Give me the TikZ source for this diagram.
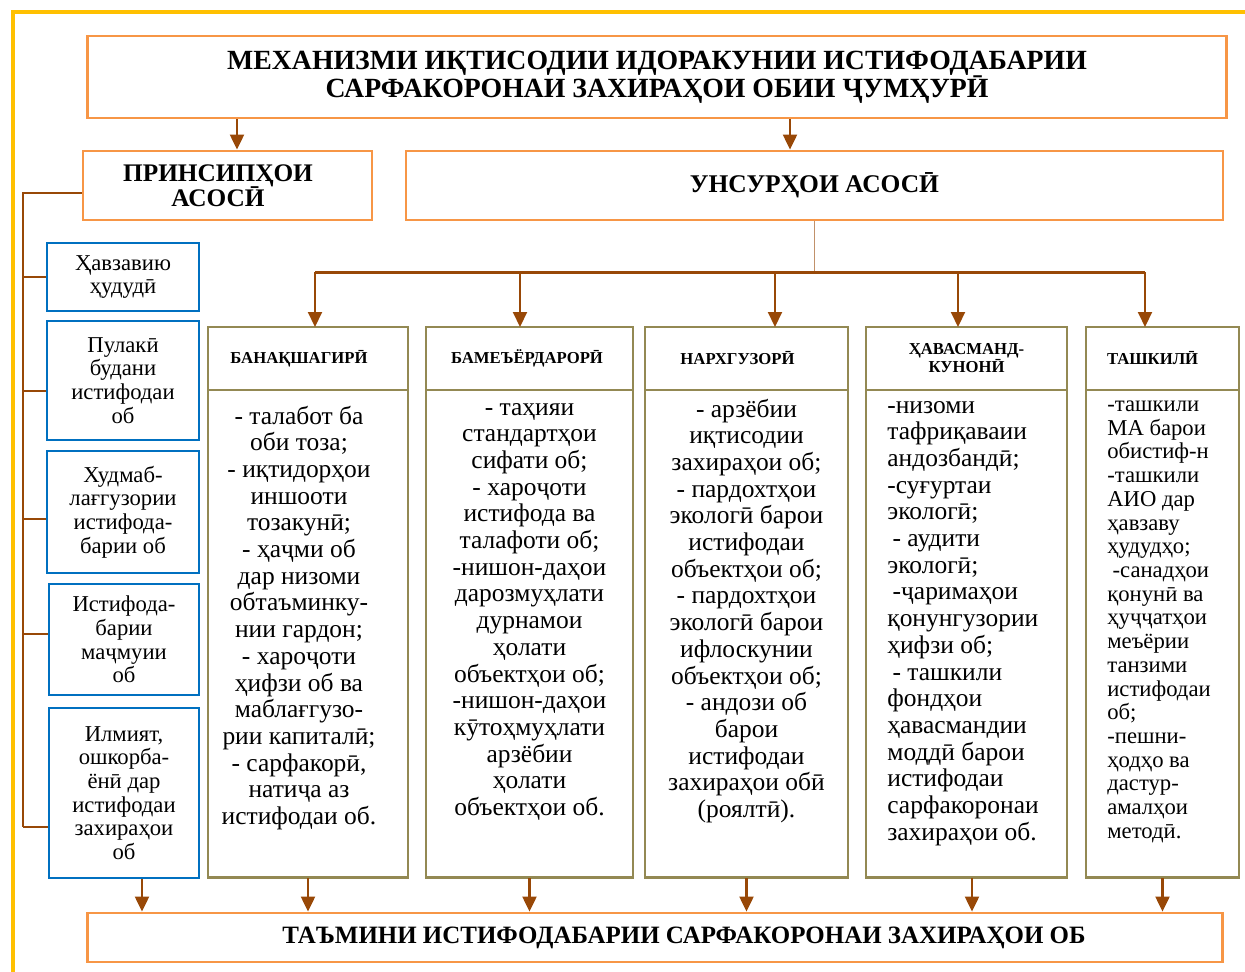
\documentclass[tikz,border=0pt]{standalone}
\usepackage{fontspec}
\setmainfont{Liberation Serif}
\usetikzlibrary{arrows.meta,positioning}

\definecolor{boxorange}{HTML}{F79646}
\definecolor{boxblue}{HTML}{0070C0}
\definecolor{boxolive}{HTML}{938953}
\definecolor{linkbrown}{HTML}{984807}
\definecolor{framegold}{HTML}{FFC000}

\tikzset{
  mainbox/.style={draw=boxorange, line width=1.6pt, inner sep=0pt, align=center},
  sidebox/.style={draw=boxblue, line width=1.6pt, inner sep=0pt, align=center,
    minimum width=3.04cm, font=\fontsize{12.9}{13.5}\selectfont},
  headbox/.style={draw=boxolive, line width=1.6pt, inner sep=0pt, outer sep=0pt,
    align=center, minimum height=1.26cm, font=\fontsize{9.5}{10.2}\selectfont\bfseries},
  bodybox/.style={draw=boxolive, line width=1.6pt, outer sep=0pt, minimum height=9.76cm},
  bodytext/.style={inner sep=0pt, font=\fontsize{14.5}{15.2}\selectfont},
  link/.style={draw=linkbrown, line width=1.2pt},
  arrow/.style={link, -{Triangle[width=0.28cm,length=0.3cm]}},
}

\begin{document}
\begin{tikzpicture}[x=0.02cm, y=-0.02cm]
\useasboundingbox (0,0) rectangle (1245,972);

% frame of the page
\draw[framegold, line width=2.3pt] (13,972) -- (13,12) -- (1245,12);

% top level
\node[mainbox, minimum width=22.8cm, minimum height=1.64cm,
  font=\fontsize{15.8}{16}\selectfont\bfseries] (title) at (657,77)
  {МЕХАНИЗМИ ИҚТИСОДИИ ИДОРАКУНИИ ИСТИФОДАБАРИИ\\САРФАКОРОНАИ ЗАХИРАҲОИ ОБИИ ҶУМҲУРӢ};
\node[mainbox, minimum width=5.78cm, minimum height=1.38cm,
  font={\fontsize{14.4}{14.2}\selectfont\bfseries\setlength{\lineskiplimit}{-10pt}}] (princ) at (227.5,185.5)
  {ПРИНСИПҲОИ\hspace*{0.38cm}\\АСОСӢ\hspace*{0.38cm}};
\node[mainbox, minimum width=16.34cm, minimum height=1.38cm,
  font=\fontsize{14.5}{15}\selectfont\bfseries] (elem) at (814.5,185.5)
  {УНСУРҲОИ АСОСӢ};
\node[mainbox, minimum width=22.72cm, minimum height=0.98cm,
  font=\fontsize{14.2}{15}\selectfont\bfseries] (result) at (655,937.5)
  {\hspace*{1.16cm}ТАЪМИНИ ИСТИФОДАБАРИИ САРФАКОРОНАИ ЗАХИРАҲОИ ОБ};

% principles
\node[sidebox, minimum height=1.36cm] (s1) at (123,277) {Ҳавзавию\\ҳудудӣ};
\node[sidebox, minimum height=2.38cm] (s2) at (123,380.5) {Пулакӣ\\будани\\истифодаи\\об};
\node[sidebox, minimum height=2.44cm] (s3) at (123,512) {Худмаб-\\лағгузории\\истифода-\\барии об};
\node[sidebox, minimum width=3cm, minimum height=2.22cm] (s4) at (124,639.5) {Истифода-\\барии\\маҷмуии\\об};
\node[sidebox, minimum width=3cm, minimum height=3.4cm] (s5) at (124,793) {Илмият,\\ошкорба-\\ёнӣ дар\\истифодаи\\захираҳои\\об};

% elements
\node[headbox, minimum width=4cm] (h1) at (308,358.5) {БАНАҚШАГИРӢ\hspace*{0.36cm}};
\node[headbox, minimum width=4.14cm] (h2) at (529.5,358.5) {БАМЕЪЁРДАРОРӢ\hspace*{0.1cm}};
\node[headbox, minimum width=4.06cm] (h3) at (746.5,358.5) {НАРХГУЗОРӢ\hspace*{0.36cm}};
\node[headbox, minimum width=4.02cm] (h4) at (966.5,358.5) {ҲАВАСМАНД-\\КУНОНӢ};
\node[headbox, minimum width=3.06cm, text width=2.22cm, inner xsep=0.42cm, align=left] (h5) at (1162.5,358.5) {ТАШКИЛӢ};

\node[bodybox, minimum width=4cm, below=0pt of h1] (c1) {};
\node[bodybox, minimum width=4.14cm, below=0pt of h2] (c2) {};
\node[bodybox, minimum width=4.06cm, below=0pt of h3] (c3) {};
\node[bodybox, minimum width=4.02cm, below=0pt of h4] (c4) {};
\node[bodybox, minimum width=3.06cm, below=0pt of h5] (c5) {};

\node[bodytext, align=center, anchor=north] (t1) at ([xshift=-0.18cm, yshift=-0.30cm]c1.north)
  {\strut- талабот ба\\оби тоза;\\- иқтидорҳои\\иншооти\\тозакунӣ;\\- ҳаҷми об\\дар низоми\\обтаъминку-\\нии гардон;\\- хароҷоти\\ҳифзи об ва\\маблағгузо-\\рии капиталӣ;\\- сарфакорӣ,\\натиҷа аз\\истифодаи об.};
\node[bodytext, align=center, anchor=north] (t2) at ([yshift=-0.12cm]c2.north)
  {\strut- таҳияи\\стандартҳои\\сифати об;\\- хароҷоти\\истифода ва\\талафоти об;\\-нишон-даҳои\\дарозмуҳлати\\дурнамои\\ҳолати\\объектҳои об;\\-нишон-даҳои\\кӯтоҳмуҳлати\\арзёбии\\ҳолати\\объектҳои об.};
\node[bodytext, align=center, anchor=north] (t3) at ([yshift=-0.16cm]c3.north)
  {\strut- арзёбии\\иқтисодии\\захираҳои об;\\- пардохтҳои\\экологӣ барои\\истифодаи\\объектҳои об;\\- пардохтҳои\\экологӣ барои\\ифлоскунии\\объектҳои об;\\- андози об\\барои\\истифодаи\\захираҳои обӣ\\(роялтӣ).};
\node[bodytext, align=left, anchor=north west] (t4) at ([xshift=0.42cm, yshift=-0.08cm]c4.north west)
  {\strut-низоми\\тафриқаваии\\андозбандӣ;\\-суғуртаи\\экологӣ;\\\hspace{3pt}- аудити\\экологӣ;\\\hspace{3pt}-ҷаримаҳои\\қонунгузории\\ҳифзи об;\\\hspace{3pt}- ташкили\\фондҳои\\ҳавасмандии\\моддӣ барои\\истифодаи\\сарфакоронаи\\захираҳои об.};
\node[bodytext, align=left, anchor=north west, font=\fontsize{12.9}{13.5}\selectfont] (t5) at ([xshift=0.42cm, yshift=-0.09cm]c5.north west)
  {\strut-ташкили\\МА барои\\обистиф-н\\-ташкили\\АИО дар\\ҳавзаву\\ҳудудҳо;\\\hspace{3pt}-санадҳои\\қонунӣ ва\\ҳуҷҷатҳои\\меъёрии\\танзими\\истифодаи\\об;\\-пешни-\\ҳодҳо ва\\дастур-\\амалҳои\\методӣ.};

% connectors
\draw[arrow] ([xshift=0.19cm]princ.north |- title.south) -- ([xshift=0.19cm]princ.north);
\draw[arrow] ([xshift=-0.49cm]elem.north |- title.south) -- ([xshift=-0.49cm]elem.north);

\coordinate (trunk) at (23,0);
\draw[link] (princ.183) -| (trunk |- s5.204);
\foreach \s/\a in {s1/180, s2/188, s3/185, s4/176, s5/204}
  \draw[link] (trunk |- \s.\a) -- (\s.\a);

\coordinate (bus) at ([yshift=-1.02cm]elem.south);
\draw[linkbrown!60, line width=0.6pt] (elem.south) -- (bus);
\draw[link, line width=1.6pt] ([xshift=0.14cm]h1.north |- bus) -- ([xshift=-0.35cm]h5.north |- bus);
\foreach \h/\dx in {h1/0.14, h2/-0.19, h3/0.57, h4/-0.17, h5/-0.35}
  \draw[arrow] ([xshift=\dx cm]\h.north |- bus) -- ([xshift=\dx cm]\h.north);

\foreach \c/\dx in {s5/0.36, c1/0, c2/0, c3/0, c4/0.11, c5/0}
  \draw[arrow] ([xshift=\dx cm]\c.south) -- ([xshift=\dx cm]\c.south |- result.north);

\end{tikzpicture}
\end{document}
